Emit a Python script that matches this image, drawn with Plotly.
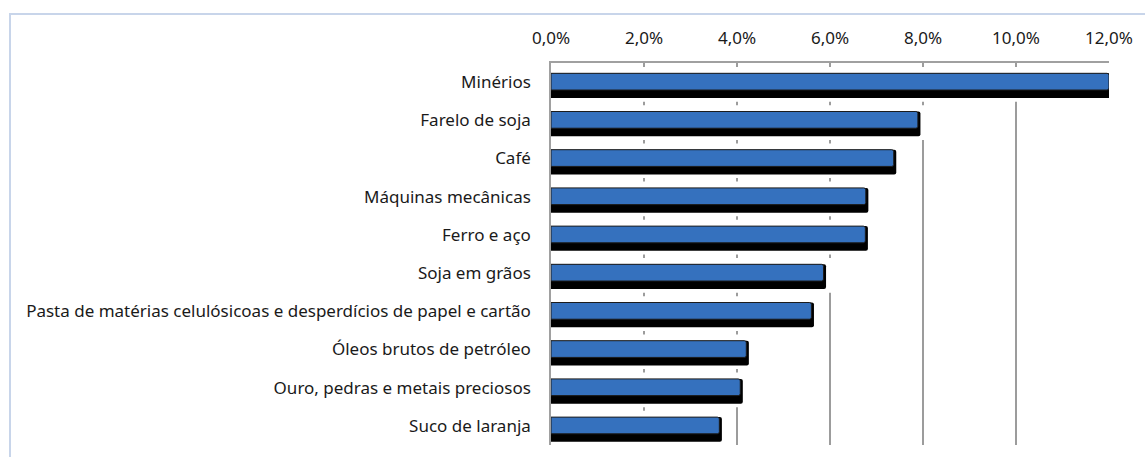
import plotly.graph_objects as go

categories = [
    "Minérios",
    "Farelo de soja",
    "Café",
    "Máquinas mecânicas",
    "Ferro e aço",
    "Soja em grãos",
    "Pasta de matérias celulósicoas e desperdícios de papel e cartão",
    "Óleos brutos de petróleo",
    "Ouro, pedras e metais preciosos",
    "Suco de laranja",
]
values = [12.0, 7.89, 7.37, 6.77, 6.76, 5.86, 5.60, 4.20, 4.07, 3.62]
tick_values = [0, 2, 4, 6, 8, 10, 12]
tick_labels = [f"{t:.1f}%".replace(".", ",") for t in tick_values]

W, H = 1145, 457
ML, MR, MT, MB = 551, 36, 63, 12
pos = list(range(len(categories)))

bar_w = 0.437
bar_off = -0.23
shadow_w = 0.647
shadow_dx = 0.055
occ_w = 0.908
occ_off = -0.395
occ_dx = 0.25

fig = go.Figure()
# occluder (hides back-wall gridlines behind each 3D bar)
fig.add_trace(go.Bar(
    y=pos, x=[v + occ_dx for v in values], orientation="h",
    width=occ_w, offset=occ_off,
    marker=dict(color="white", line=dict(width=0)),
    hoverinfo="skip", showlegend=False,
))
# shadow / dark body
fig.add_trace(go.Bar(
    y=pos, x=[v + shadow_dx for v in values], orientation="h",
    width=shadow_w, offset=bar_off,
    marker=dict(color="#000000", line=dict(width=0)),
    hoverinfo="skip", showlegend=False,
))
# main bars
fig.add_trace(go.Bar(
    y=pos, x=values, orientation="h",
    width=bar_w, offset=bar_off,
    marker=dict(color="#3571be", line=dict(width=1, color="#1c1c1c")),
    showlegend=False,
))

pw = W - ML - MR
ph = H - MT - MB
fig.add_shape(
    type="rect", xref="paper", yref="paper",
    x0=(10 - ML) / pw, x1=(W + 5 - ML) / pw,
    y0=-(H + 5 - MT - ph) / ph, y1=(H - 14 - MB) / ph,
    line=dict(color="#c8d5ea", width=2), fillcolor="rgba(0,0,0,0)",
    layer="below",
)

fig.update_layout(
    width=W, height=H,
    margin=dict(l=ML, r=MR, t=MT, b=MB, pad=0),
    barmode="overlay",
    barcornerradius=2,
    paper_bgcolor="white", plot_bgcolor="white",
    font=dict(family="Noto Sans", size=17, color="#1a1a1a"),
    xaxis=dict(
        side="top", range=[0, 12], tickvals=tick_values, ticktext=tick_labels,
        showgrid=True, gridcolor="#9c9c9c", gridwidth=1.5,
        zeroline=False, showline=True, linecolor="#a0a0a0", linewidth=1.5,
        ticks="", ticklabelstandoff=10, fixedrange=True, automargin=False,
    ),
    yaxis=dict(
        range=[len(categories) - 0.5, -0.5], tickvals=pos, ticktext=categories,
        showgrid=False, zeroline=False, showline=True,
        linecolor="#a0a0a0", linewidth=1.5, ticks="", ticklabelstandoff=15,
        fixedrange=True, automargin=False,
    ),
)

fig.write_html(
    "out.html",
    config={"displayModeBar": False},
    post_script="document.body.style.margin='0';",
)
